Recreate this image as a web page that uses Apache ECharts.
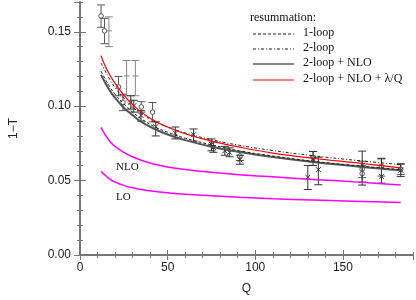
<!DOCTYPE html>
<html><head><meta charset="utf-8">
<script src="https://cdn.jsdelivr.net/npm/echarts@6/dist/echarts.min.js"></script>
<style>html,body{margin:0;padding:0;background:#fff}#c{width:416px;height:300px}</style>
</head><body><div id="c"></div>
<script>
// ---- curve data ----
var qCurve   = [12, 14, 17, 20, 25, 30, 35, 42, 50, 60, 75, 91, 110, 133, 161, 183];
var oneLoop  = [0.1235,0.1190,0.1130,0.1080,0.1015,0.0960,0.0915,0.0865,0.0825,0.0785,0.0740,0.0700,0.0665,0.0630,0.0597,0.0574];
var twoLoop  = [0.1290,0.1245,0.1180,0.1125,0.1055,0.0995,0.0950,0.0900,0.0860,0.0820,0.0775,0.0737,0.0702,0.0667,0.0632,0.0607];
var twoNLO   = [0.1210,0.1165,0.1105,0.1055,0.0990,0.0940,0.0895,0.0850,0.0810,0.0772,0.0728,0.0692,0.0658,0.0625,0.0592,0.0570];
var twoNLOpc = [0.1340,0.1280,0.1210,0.1155,0.1075,0.1010,0.0960,0.0905,0.0860,0.0815,0.0765,0.0725,0.0685,0.0650,0.0615,0.0585];
var nloOnly  = [0.0858,0.0815,0.0765,0.0730,0.0690,0.0660,0.0637,0.0612,0.0592,0.0575,0.0556,0.0540,0.0525,0.0508,0.0488,0.0470];
var loOnly   = [0.0563,0.0540,0.0510,0.0490,0.0468,0.0452,0.0440,0.0428,0.0418,0.0408,0.0398,0.0388,0.0378,0.0369,0.0360,0.0353];

// ---- measured points: [Q, value, low, high] ----
var circlePts = [
  [12,   0.1606, 0.1530, 0.1680],
  [14,   0.1506, 0.1420, 0.1590],
  [22,   0.1129, 0.1070, 0.1200],
  [24.5, 0.1025, 0.0970, 0.1080],
  [35,   0.0995, 0.0960, 0.1030],
  [41.4, 0.0960, 0.0895, 0.1025],
  [91.2, 0.0665, 0.0635, 0.0695],
  [133,  0.0655, 0.0625, 0.0695],
  [161,  0.0576, 0.0520, 0.0630],
  [161,  0.0547, 0.0490, 0.0600],
  [172,  0.0596, 0.0530, 0.0650],
  [183,  0.0577, 0.0540, 0.0610]
];
var plusPts = [
  [16.5, 0.1506, 0.1400, 0.1600],
  [26.6, 0.1203, 0.1070, 0.1307],
  [31.6, 0.1203, 0.1070, 0.1307]
];
var crossPts = [
  [29,   0.1025, 0.0980, 0.1070],
  [30.7, 0.1003, 0.0960, 0.1040],
  [34.8, 0.0938, 0.0900, 0.0970],
  [43.2, 0.0862, 0.0800, 0.0895],
  [54.4, 0.0819, 0.0780, 0.0860],
  [64.8, 0.0808, 0.0765, 0.0847],
  [75,   0.0743, 0.0700, 0.0780],
  [76.1, 0.0722, 0.0690, 0.0760],
  [82.6, 0.0700, 0.0670, 0.0730],
  [85.4, 0.0689, 0.0660, 0.0720],
  [91.2, 0.0640, 0.0610, 0.0670],
  [130,  0.0522, 0.0440, 0.0602],
  [133,  0.0646, 0.0602, 0.0696],
  [136,  0.0574, 0.0472, 0.0657],
  [161,  0.0602, 0.0470, 0.0698],
  [172,  0.0528, 0.0483, 0.0646],
  [183,  0.0570, 0.0527, 0.0613]
];

var xTickLabels = ['0','50','100','150'];

function pairs(xs, ys){ return xs.map(function(x,i){ return [x, ys[i]]; }); }

function errRender(kind, color){
  return function(params, api){
    var p = api.coord([api.value(0), api.value(1)]);
    var lo = api.coord([api.value(0), api.value(2)]);
    var hi = api.coord([api.value(0), api.value(3)]);
    var st = {stroke: color, lineWidth: 1, fill: 'none'};
    var ch = [
      {type:'line', shape:{x1:p[0],y1:lo[1],x2:p[0],y2:hi[1]}, style:st},
      {type:'line', shape:{x1:p[0]-4,y1:lo[1],x2:p[0]+4,y2:lo[1]}, style:st},
      {type:'line', shape:{x1:p[0]-4,y1:hi[1],x2:p[0]+4,y2:hi[1]}, style:st}
    ];
    if (kind === 'circle') {
      ch.push({type:'circle', shape:{cx:p[0],cy:p[1],r:2.3}, style:{stroke:color,lineWidth:1,fill:'#fff'}});
    } else if (kind === 'cross') {
      ch.push({type:'line', shape:{x1:p[0]-2.5,y1:p[1]-2.5,x2:p[0]+2.5,y2:p[1]+2.5}, style:st});
      ch.push({type:'line', shape:{x1:p[0]-2.5,y1:p[1]+2.5,x2:p[0]+2.5,y2:p[1]-2.5}, style:st});
    } else {
      ch.push({type:'line', shape:{x1:p[0]-3,y1:p[1],x2:p[0]+3,y2:p[1]}, style:st});
    }
    return {type:'group', children: ch};
  };
}

var axCol = '#777';
var labelFont = {fontFamily:'Liberation Sans', fontSize:12, color:'#222'};
function xAx(pos, interval, len, labels){
  return {type:'value', min:0, max:190, interval:interval, position:pos,
    axisLine:{show:true, lineStyle:{color:axCol, width:1.5}},
    axisTick:{show:true, inside:true, length:len, lineStyle:{color:axCol, width:1}},
    axisLabel: labels ? Object.assign({show:true, margin:7, showMaxLabel:false,
        formatter:function(v){ var i = xTickLabels.indexOf(String(v)); return i>=0 ? xTickLabels[i] : ''; }}, labelFont) : {show:false},
    splitLine:{show:false},
    name: labels ? 'Q' : '', nameLocation:'middle', nameGap:28,
    nameTextStyle:{fontFamily:'Liberation Sans', fontSize:12, color:'#222'}};
}
function yAx(pos, interval, len, labels){
  return {type:'value', min:0, max:0.17, interval:interval, position:pos,
    axisLine:{show:true, lineStyle:{color:axCol, width:1.5}},
    axisTick:{show:true, inside:true, length:len, lineStyle:{color:axCol, width:1}},
    axisLabel: labels ? Object.assign({show:true, margin:9, showMaxLabel:false,
        formatter:function(v){ return v.toFixed(2); }}, labelFont) : {show:false},
    splitLine:{show:false},
    name: labels ? '1\u2212T' : '', nameLocation:'middle', nameGap:60, nameRotate:90,
    nameTextStyle:{fontFamily:'Liberation Sans', fontSize:12, color:'#222'}};
}

var chart = echarts.init(document.getElementById('c'), null, {renderer:'canvas'});
var lineBase = {type:'line', smooth:0.4, showSymbol:false, symbol:'none', xAxisIndex:0, yAxisIndex:0, z:5};
var legX1 = 253, legX2 = 294, legTX = 303;
var legendRows = [
  {y:34, text:'1-loop', style:{stroke:'#222', lineWidth:1, lineDash:[3,2]}},
  {y:49, text:'2-loop', style:{stroke:'#222', lineWidth:1, lineDash:[3,2,1,2]}},
  {y:64, text:'2-loop + NLO', style:{stroke:'#888', lineWidth:2}},
  {y:80, text:'2-loop + NLO + \u03bb/Q', style:{stroke:'#f00', lineWidth:1}}
];
var graphics = [{type:'text', left:250, top:12, style:{text:'resummation:', font:'12px "Liberation Serif"', fill:'#111'}}];
legendRows.forEach(function(r){
  graphics.push({type:'line', shape:{x1:legX1,y1:r.y,x2:legX2,y2:r.y}, style:r.style});
  graphics.push({type:'text', left:legTX, top:r.y-7, style:{text:r.text, font:'12px "Liberation Serif"', fill:'#111'}});
});
graphics.push({type:'text', left:116, top:162, style:{text:'NLO', font:'11px "Liberation Serif"', fill:'#111'}});
graphics.push({type:'text', left:116, top:192, style:{text:'LO', font:'11px "Liberation Serif"', fill:'#111'}});

chart.setOption({
  animation:false,
  grid:{left:75, right:3, top:2, bottom:36, containLabel:false},
  xAxis:[xAx('bottom',50,5,true), xAx('bottom',10,3,false), xAx('top',50,5,false), xAx('top',10,3,false)],
  yAxis:[yAx('left',0.05,6,true), yAx('left',0.01,3,false), yAx('right',0.05,6,false), yAx('right',0.01,3,false)],
  graphic: graphics,
  series:[
    {type:'custom', renderItem:errRender('circle','#555'), data:circlePts, xAxisIndex:0, yAxisIndex:0, z:3},
    {type:'custom', renderItem:errRender('plus','#888'), data:plusPts, xAxisIndex:0, yAxisIndex:0, z:3},
    {type:'custom', renderItem:errRender('cross','#333'), data:crossPts, xAxisIndex:0, yAxisIndex:0, z:3},
    Object.assign({}, lineBase, {name:'2-loop + NLO', data:pairs(qCurve,twoNLO), lineStyle:{color:'#555', width:2}}),
    Object.assign({}, lineBase, {name:'1-loop', data:pairs(qCurve,oneLoop), lineStyle:{color:'#222', width:1, type:[3,2]}}),
    Object.assign({}, lineBase, {name:'2-loop', data:pairs(qCurve,twoLoop), lineStyle:{color:'#222', width:1, type:[3,2,1,2]}}),
    Object.assign({}, lineBase, {name:'2-loop + NLO + \u03bb/Q', data:pairs(qCurve,twoNLOpc), lineStyle:{color:'#f00', width:1.2}}),
    Object.assign({}, lineBase, {name:'NLO', data:pairs(qCurve,nloOnly), lineStyle:{color:'#f0f', width:1.5}}),
    Object.assign({}, lineBase, {name:'LO', data:pairs(qCurve,loOnly), lineStyle:{color:'#f0f', width:1.5}})
  ]
});
</script></body></html>
